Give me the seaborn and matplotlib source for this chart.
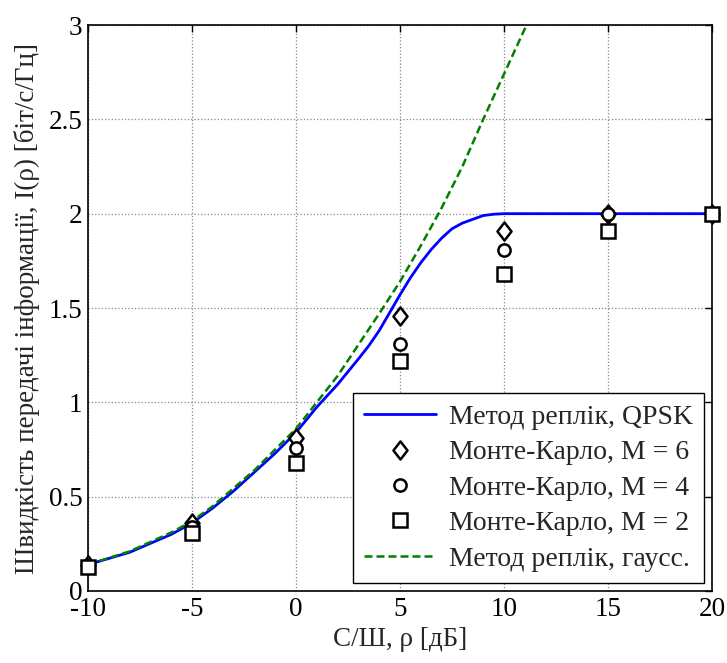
import numpy as np
import pandas as pd
import matplotlib
matplotlib.use('Agg')
import matplotlib.pyplot as plt
import seaborn as sns
from matplotlib.path import Path

# curve "Метод реплік, QPSK"
snr_qpsk = [-10, -8, -6, -5, -4, -3, -2, -1, 0, 1, 2, 3, 3.5, 4, 4.5, 5, 5.5, 6, 6.5,
            7, 7.5, 8, 8.5, 9, 9.5, 10, 12, 15, 20]
rate_qpsk = [0.14, 0.205, 0.30, 0.36, 0.44, 0.53, 0.63, 0.73, 0.84, 0.975, 1.095, 1.23,
             1.30, 1.38, 1.475, 1.57, 1.66, 1.74, 1.81, 1.87, 1.92, 1.95, 1.97, 1.99,
             1.997, 2.0, 2.0, 2.0, 2.0]

# curve "Метод реплік, гаусс."
snr_gauss = [-10, -8, -6, -5, -4, -2, 0, 2, 4, 5, 6, 7, 8, 9, 10, 11, 11.5]
rate_gauss = [0.14, 0.21, 0.31, 0.37, 0.45, 0.64, 0.86, 1.14, 1.47, 1.64, 1.83, 2.03,
              2.25, 2.5, 2.74, 2.98, 3.09]

# Monte-Carlo points
snr_mc = [-10, -5, 0, 5, 10, 15, 20]
mc_m6 = [0.14, 0.36, 0.81, 1.46, 1.91, 2.0, 2.0]
mc_m4 = [0.135, 0.34, 0.76, 1.31, 1.81, 2.0, 2.0]
mc_m2 = [0.127, 0.305, 0.68, 1.22, 1.68, 1.91, 2.0]

xticks = [-10, -5, 0, 5, 10, 15, 20]
yticks = [0, 0.5, 1, 1.5, 2, 2.5, 3]

sns.set_style('white')
plt.rcParams['font.family'] = ['Liberation Serif', 'DejaVu Serif']
fs = 19.5

# diamond a bit wider than matplotlib's thin 'd'
diamond = Path([(0, 1), (0.78, 0), (0, -1), (-0.78, 0), (0, 1)],
               [Path.MOVETO, Path.LINETO, Path.LINETO, Path.LINETO, Path.CLOSEPOLY])

fig = plt.figure(figsize=(7.27, 6.63), dpi=100)
ax = fig.add_axes([88 / 727, 1 - 591 / 663, (712 - 88) / 727, (591 - 25) / 663])

sns.lineplot(x=snr_qpsk, y=rate_qpsk, ax=ax, color='#0000ff', linewidth=2.0,
             label='Метод реплік, QPSK', zorder=3)
sns.lineplot(x=snr_gauss, y=rate_gauss, ax=ax, color='#008000', linewidth=1.8,
             linestyle=(0, (3.2, 1.6)), label='Метод реплік, гаусс.', zorder=3)

mk = dict(linestyle='', markerfacecolor='white', markeredgecolor='black',
          markeredgewidth=1.8, color='black', clip_on=False, zorder=4)
sns.lineplot(x=snr_mc, y=mc_m6, ax=ax, marker=diamond, markersize=13,
             label='Монте-Карло, M = 6', **mk)
sns.lineplot(x=snr_mc, y=mc_m4, ax=ax, marker='o', markersize=8.8,
             label='Монте-Карло, M = 4', **mk)
sns.lineplot(x=snr_mc, y=mc_m2, ax=ax, marker='s', markersize=9.6,
             label='Монте-Карло, M = 2', **mk)

ax.set_xlim(-10, 20)
ax.set_ylim(0, 3)
ax.set_xticks(xticks)
ax.set_yticks(yticks)
ax.set_xticklabels([str(v) for v in xticks])
ax.set_yticklabels(['0', '0.5', '1', '1.5', '2', '2.5', '3'])
ax.grid(True, color='#888888', linestyle=':', linewidth=0.9)
ax.tick_params(direction='in', length=5, width=1, top=True, right=True,
               labelsize=fs, pad=4, colors='black')
for s in ax.spines.values():
    s.set_color('black')
    s.set_linewidth(1.2)

ax.set_xlabel('С/Ш, ρ [дБ]', fontsize=fs, labelpad=4)
ax.set_ylabel('Швидкість передачі інформації, I(ρ) [біт/с/Гц]', fontsize=fs, labelpad=6)

handles, labels = ax.get_legend_handles_labels()
order = ['Метод реплік, QPSK', 'Монте-Карло, M = 6', 'Монте-Карло, M = 4',
         'Монте-Карло, M = 2', 'Метод реплік, гаусс.']
hmap = dict(zip(labels, handles))
leg = ax.legend([hmap[k] for k in order], order, loc='lower right', fontsize=20,
                frameon=True, fancybox=False, framealpha=1, edgecolor='black',
                handlelength=2.6, handletextpad=0.45, labelspacing=0.36,
                borderpad=0.4, borderaxespad=0.3)
leg.get_frame().set_linewidth(1.0)

fig.savefig('out.png', dpi=100)
